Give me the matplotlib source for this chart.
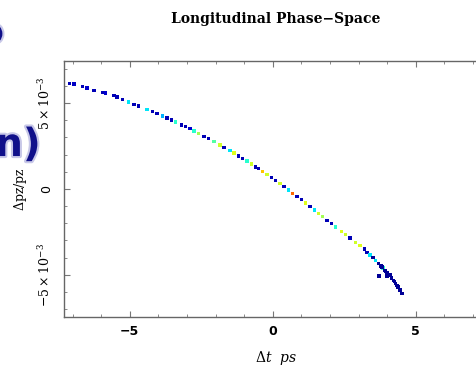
import numpy as np
import matplotlib
matplotlib.use("Agg")
import matplotlib.pyplot as plt
import matplotlib.patheffects as pe
from matplotlib.ticker import MultipleLocator

# macro-particles: dt [ps], dpz/pz [1e-3], density colour level
dt = [-7.10, -6.95, -6.65, -6.50, -6.25, -5.95, -5.85, -5.55, -5.45, -5.25,
      -5.05, -4.85, -4.70, -4.40, -4.20, -4.05, -3.85, -3.70, -3.55, -3.40,
      -3.20, -3.05, -2.90, -2.75, -2.60, -2.40, -2.25, -2.05, -1.85, -1.70,
      -1.50, -1.35, -1.20, -1.05, -0.90, -0.75, -0.60, -0.50, -0.35, -0.20,
      -0.05, 0.10, 0.25, 0.40, 0.55, 0.70, 0.85, 1.00, 1.15, 1.30,
      1.45, 1.60, 1.75, 1.90, 2.05, 2.20, 2.40, 2.55, 2.70, 2.90,
      3.05, 3.20, 3.30, 3.40, 3.50, 3.60, 3.70, 3.78, 3.85, 3.92,
      4.00, 4.08, 4.15, 4.22, 4.30, 4.38, 4.45, 4.52, 3.72, 3.99,
      3.95, 4.10, 4.25, 3.82, 4.35]
dpz = [6.15, 6.10, 5.95, 5.88, 5.72, 5.60, 5.58, 5.42, 5.35, 5.20,
       5.05, 4.92, 4.82, 4.62, 4.50, 4.40, 4.25, 4.12, 4.00, 3.90,
       3.72, 3.62, 3.50, 3.38, 3.22, 3.05, 2.92, 2.75, 2.55, 2.42,
       2.22, 2.08, 1.92, 1.78, 1.62, 1.45, 1.28, 1.18, 1.00, 0.85,
       0.68, 0.50, 0.32, 0.15, -0.05, -0.25, -0.45, -0.62, -0.82, -1.02,
       -1.22, -1.42, -1.62, -1.82, -2.02, -2.22, -2.48, -2.66, -2.85, -3.10,
       -3.30, -3.50, -3.70, -3.85, -4.00, -4.15, -4.33, -4.48, -4.60, -4.75,
       -4.90, -5.05, -5.18, -5.32, -5.50, -5.70, -5.88, -6.10, -5.06, -5.10,
       -4.82, -5.00, -5.40, -4.55, -5.62]
dens = [0.05, 0.06, 0.05, 0.07, 0.05, 0.05, 0.07, 0.05, 0.05, 0.05,
        0.35, 0.05, 0.05, 0.35, 0.05, 0.05, 0.30, 0.05, 0.05, 0.40,
        0.05, 0.05, 0.07, 0.40, 0.55, 0.05, 0.05, 0.45, 0.60, 0.05,
        0.35, 0.62, 0.05, 0.05, 0.40, 0.60, 0.05, 0.05, 0.70, 0.60,
        0.05, 0.05, 0.60, 0.05, 0.35, 0.80, 0.05, 0.05, 0.62, 0.05,
        0.35, 0.60, 0.55, 0.05, 0.05, 0.40, 0.62, 0.60, 0.05, 0.60,
        0.62, 0.05, 0.05, 0.35, 0.02, 0.35, 0.02, 0.02, 0.40, 0.02,
        0.02, 0.02, 0.02, 0.02, 0.02, 0.02, 0.02, 0.02, 0.02, 0.02,
        0.02, 0.02, 0.02, 0.02, 0.02]

xticks = [-5, 0, 5]
yticks = [-5e-3, 0, 5e-3]
yticklabels = [r'$-5\times10^{-3}$', '0', r'$5\times10^{-3}$']

plt.rcParams['mathtext.fontset'] = 'dejavuserif'

fig = plt.figure(figsize=(4.76, 3.76), dpi=100)
ax = fig.add_axes([0.1345, 0.157, 0.889, 0.681])

ax.scatter(dt, np.array(dpz) * 1e-3, c=dens, cmap='jet', vmin=0, vmax=1,
           marker='s', s=6, linewidths=0)

ax.set_xlim(-7.3, 7.5)
ax.set_ylim(-7.45e-3, 7.45e-3)
ax.set_xticks(xticks)
ax.set_xticklabels(['\u22125', '0', '5'], fontsize=9, fontweight='bold')
ax.set_yticks(yticks)
ax.set_yticklabels(yticklabels, rotation=90, va='center', fontsize=9)
ax.xaxis.set_minor_locator(MultipleLocator(1))
ax.yaxis.set_minor_locator(MultipleLocator(1e-3))
ax.tick_params(which='both', direction='in', top=True, right=False, color='#777777')
ax.tick_params(which='major', length=4, width=0.8, pad=6)
ax.tick_params(which='minor', length=2, width=0.6)
ax.tick_params(axis='y', which='major', pad=8)
for s in ax.spines.values():
    s.set_color('#666666')
    s.set_linewidth(1.0)

ax.set_title('Longitudinal Phase\u2212Space', family='DejaVu Serif', fontweight='bold',
             fontsize=10, pad=27)
ax.set_xlabel(r'$\Delta t\ \ ps$', fontsize=10, labelpad=8)
ax.set_ylabel(r'$\Delta\mathrm{pz/pz}$', fontsize=9, labelpad=6)

# fragments of the slide heading showing at the left edge
glow = [pe.withStroke(linewidth=3, foreground='#c8c8e8')]
fig.text(0.008, 0.886, 'o', fontsize=24, fontweight='bold', color='#10108a',
         ha='right', va='baseline', path_effects=glow)
fig.text(-0.01, 0.585, 'n)', fontsize=28, fontweight='bold', color='#10108a',
         ha='left', va='baseline', path_effects=glow)

fig.savefig('out.png', dpi=100)
